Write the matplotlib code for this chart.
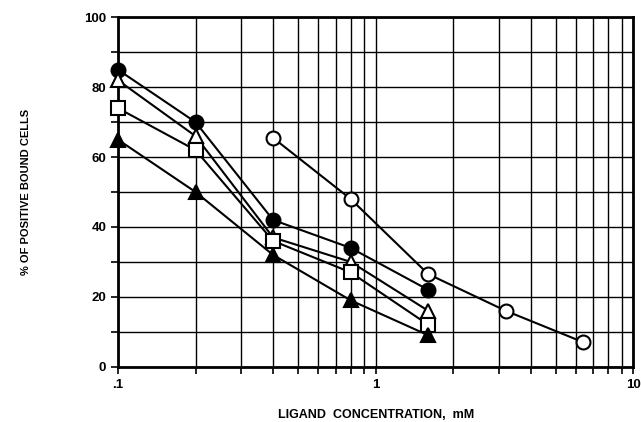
import numpy as np
import matplotlib
matplotlib.use('Agg')
import matplotlib.pyplot as plt
from matplotlib.ticker import FixedLocator, NullFormatter

# ligand concentration, mM
conc = [0.1, 0.2, 0.4, 0.8, 1.6]
conc_open = [0.4, 0.8, 1.6, 3.2, 6.4]

# % of positive bound cells
filled_circle = [85, 70, 42, 34, 22]
open_triangle = [82, 66, 37, 30, 16]
open_square = [74, 62, 36, 27, 12]
filled_triangle = [65, 50, 32, 19, 9]
open_circle = [65.5, 48, 26.5, 16, 7]

yticks = [0, 20, 40, 60, 80, 100]
xticks = [0.1, 1, 10]
xtick_labels = ['.1', '1', '10']

plt.rcParams['font.family'] = ['Liberation Sans', 'DejaVu Sans']
plt.rcParams['font.weight'] = 'bold'

fig = plt.figure(figsize=(6.41, 4.22), dpi=100)
ax = fig.add_axes([0.184, 0.131, 0.804, 0.828])

ax.set_xscale('log')
ax.set_xlim(0.1, 10)
ax.set_ylim(0, 100)

minors = [m * d for d in (0.1, 1) for m in range(2, 10)]
ax.xaxis.set_major_locator(FixedLocator(xticks))
ax.xaxis.set_minor_locator(FixedLocator(minors))
ax.xaxis.set_minor_formatter(NullFormatter())
ax.set_xticklabels(xtick_labels)
ax.set_yticks(yticks)
ax.yaxis.set_minor_locator(FixedLocator(range(10, 100, 20)))

ax.grid(True, which='both', color='black', linewidth=1.0)
ax.set_axisbelow(True)
for s in ax.spines.values():
    s.set_linewidth(2)

ax.tick_params(which='both', direction='out', length=5, width=1.2, labelsize=9.5)
ax.tick_params(axis='x', which='major', pad=4)

mk = dict(color='black', linewidth=1.5, markersize=10, markeredgewidth=1.5, clip_on=False, zorder=3)
ax.plot(conc, filled_circle, marker='o', markerfacecolor='black', **mk)
ax.plot(conc, open_triangle, marker='^', markerfacecolor='white', **mk)
ax.plot(conc, open_square, marker='s', markerfacecolor='white', **mk)
ax.plot(conc, filled_triangle, marker='^', markerfacecolor='black', **mk)
ax.plot(conc_open, open_circle, marker='o', markerfacecolor='white', **mk)

ax.set_xlabel('LIGAND  CONCENTRATION,  mM', fontsize=9, fontweight='bold', labelpad=13)
ax.set_ylabel('% OF POSITIVE BOUND CELLS', fontsize=8, fontweight='bold', labelpad=38)

plt.savefig('out.png', dpi=100)
